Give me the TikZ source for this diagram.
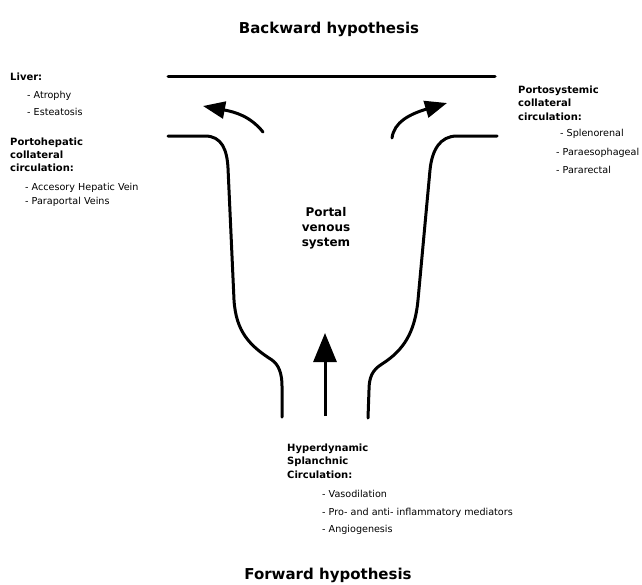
\documentclass[tikz,border=0pt]{standalone}
\usepackage{fontspec}
\setmainfont{DejaVu Sans}
\usetikzlibrary{arrows.meta}

\tikzset{
  headtxt/.style={font=\bfseries\fontsize{10}{12}\selectfont, anchor=base west, inner sep=0pt},
  itemtxt/.style={font=\fontsize{9.6}{12}\selectfont, anchor=base west, inner sep=0pt},
  titletxt/.style={font=\bfseries\fontsize{15}{18}\selectfont, anchor=base, inner sep=0pt},
  portaltxt/.style={font=\bfseries\fontsize{12}{14}\selectfont, anchor=base, inner sep=0pt},
  wall/.style={line width=3pt, line cap=round, line join=round},
  bigarrow/.style={line width=3pt, -{Triangle[length=29pt,width=23pt]}},
  bentarrow/.style={line width=3pt, line cap=round, -{Triangle[length=22pt,width=17pt]}},
}

\begin{document}
\begin{tikzpicture}[x=1pt,y=-1pt]

        \useasboundingbox (0,0) rectangle (642,584);

        % top line
        \coordinate (ta) at (168,76);
        \coordinate (tb) at (495,76);
        \draw[wall] (ta) -- (tb);

        % left wall
        \coordinate (la) at (168,136);
        \coordinate (lb) at (205,136);
        \coordinate (lc) at (228,168);
        \coordinate (ld) at (234,300);
        \coordinate (le) at (272,360);
        \coordinate (lf) at (282,386);
        \coordinate (lg) at (282,417);
        \draw[wall] (la) -- (lb) .. controls (222,136) and (227,150) .. (lc) -- (ld)
            .. controls (236,332) and (250,346) .. (le)
            .. controls (279,365) and (282,374) .. (lf) -- (lg);

        % right wall
        \coordinate (ra) at (497,136);
        \coordinate (rb) at (457,136);
        \coordinate (rc) at (430,170);
        \coordinate (rd) at (418,300);
        \coordinate (re) at (382,364);
        \coordinate (rf) at (369,390);
        \coordinate (rg) at (368,418);
        \draw[wall] (ra) -- (rb) .. controls (440,136) and (432,150) .. (rc) -- (rd)
            .. controls (415,332) and (404,350) .. (re)
            .. controls (372,370) and (369,378) .. (rf) -- (rg);

        % arrows
        \coordinate (ma) at (325,416);
        \coordinate (mb) at (325,333);
        \draw[bigarrow] (ma) -- (mb);

        \coordinate (pa) at (263,132);
        \coordinate (pb) at (203,106);
        \draw[bentarrow] (pa) .. controls (250,116) and (235,112) .. (pb);

        \coordinate (qa) at (392,138);
        \coordinate (qb) at (447,103);
        \draw[bentarrow] (qa) .. controls (394,122) and (410,114) .. (qb);

        % titles
        \node[titletxt] (back) at (329,33) {Backward hypothesis};
        \node[titletxt] (fwd) at (328,579) {Forward hypothesis};

        % liver
        \node[headtxt] (liver) at (10,80) {Liver:};
        \node[itemtxt] (atro) at (27,98) {- Atrophy};
        \node[itemtxt] (estea) at (27,115) {- Esteatosis};

        % portohepatic
        \foreach \t [count=\i] in {Portohepatic,collateral,circulation:}
            \node[headtxt] (ph\i) at (10,{132+13*\i}) {\t};
        \node[itemtxt] (ahv) at (25,190.5) {- Accesory Hepatic Vein};
        \node[itemtxt] (ppv) at (25,204.5) {- Paraportal Veins};

        % portosystemic
        \foreach \t [count=\i] in {Portosystemic,collateral,circulation:}
            \node[headtxt] (ps\i) at (518,{79.5+13.5*\i}) {\t};
        \node[itemtxt] (spl) at (560,136) {- Splenorenal};
        \node[itemtxt] (pes) at (556,155) {- Paraesophageal};
        \node[itemtxt] (prc) at (556,173) {- Pararectal};

        % portal venous system
        \foreach \t [count=\i] in {Portal,venous,system}
            \node[portaltxt] (pv\i) at (326,{201+15*\i}) {\t};

        % hyperdynamic
        \foreach \t [count=\i] in {Hyperdynamic,Splanchnic,Circulation:}
            \node[headtxt] (hy\i) at (287,{437.5+13.5*\i}) {\t};
        \node[itemtxt] (vaso) at (322,497) {- Vasodilation};
        \node[itemtxt] (infl) at (322,515) {- Pro- and anti- inflammatory mediators};
        \node[itemtxt] (angio) at (322,532) {- Angiogenesis};

\end{tikzpicture}
\end{document}
